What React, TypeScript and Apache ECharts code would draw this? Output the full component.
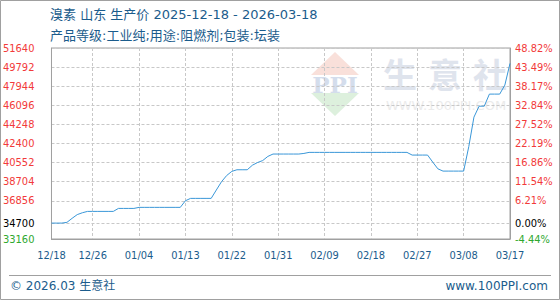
import React, { useEffect, useRef } from 'react';
import * as echarts from 'echarts';

// ---- data ----
const startDate = Date.UTC(2025, 11, 18);
const dayCount = 90;
const dates: string[] = [];
for (let i = 0; i < dayCount; i++) {
  const d = new Date(startDate + i * 86400000);
  const mm = String(d.getUTCMonth() + 1).padStart(2, '0');
  const dd = String(d.getUTCDate()).padStart(2, '0');
  dates.push(mm + '/' + dd);
}

const prices: number[] = [
  34700, 34700, 34700, 34770, 35160, 35520, 35700, 35830, 35830, 35830,
  35830, 35830, 35830, 36120, 36120, 36120, 36120, 36220, 36220, 36220,
  36220, 36220, 36220, 36220, 36220, 36220, 36860, 37090, 37090, 37090,
  37090, 37090, 37900, 38700, 39300, 39700, 39860, 39860, 39860, 40300,
  40560, 40750, 41150, 41380, 41380, 41380, 41380, 41380, 41380, 41440,
  41540, 41540, 41540, 41540, 41540, 41540, 41540, 41540, 41540, 41540,
  41540, 41540, 41540, 41540, 41540, 41540, 41540, 41540, 41540, 41540,
  41280, 41280, 41280, 41280, 40600, 39950, 39730, 39730, 39730, 39730,
  39730, 42100, 44950, 46010, 46010, 47180, 47180, 47180, 48050, 50150,
];

const yTicks: number[] = [33160, 34700, 36856, 38704, 40552, 42400, 44248, 46096, 47944, 49792, 51640];
const basePrice = 34700;

const titleLine1 = '溴素 山东 生产价 2025-12-18 - 2026-03-18';
const titleLine2 = '产品等级:工业纯;用途:阻燃剂;包装:坛装';
const footerLeft = '© 2026.03 生意社';
const footerRight = 'www.100PPI.com';
const wmChars = ['生', '意', '社'];
const wmUrl = 'WWW.100PPI.COM';

const BLUE_TEXT = '#1b5c8c';
const RED = '#f23a3a';
const GREEN = '#2fa82f';
const AXIS_GRAY = '#a0a0a0';
const GRID_GRAY = '#c8c8c8';
const LABEL_FONT = '"DejaVu Sans Condensed", "DejaVu Sans", sans-serif';
const TEXT_FONT = '"DejaVu Sans", "Noto Sans CJK SC", sans-serif';

const labelColor = (v: any) => {
  const n = Number(v);
  if (Math.abs(n - basePrice) < 0.5) return '#000000';
  return n > basePrice ? RED : GREEN;
};

const xLabelShown = (index: number) => index === 0 || (dayCount - 1 - index) % 9 === 0;

export default function App() {
  const ref = useRef<HTMLDivElement>(null);
  useEffect(() => {
    if (!ref.current) return;
    const chart = echarts.init(ref.current, undefined, { renderer: 'svg' });
    const yMin = yTicks[0];
    const yMax = yTicks[yTicks.length - 1];
    chart.setOption({
      animation: false,
      backgroundColor: '#ffffff',
      grid: {
        left: 51, right: 50, top: 48, bottom: 61,
        show: true, borderColor: AXIS_GRAY, borderWidth: 1, backgroundColor: 'transparent',
      },
      xAxis: {
        type: 'category',
        data: dates,
        boundaryGap: false,
        axisLine: { lineStyle: { color: AXIS_GRAY } },
        axisTick: { show: false },
        axisLabel: {
          interval: (i: number) => xLabelShown(i),
          color: BLUE_TEXT, fontSize: 11, fontFamily: LABEL_FONT, margin: 11,
        },
        splitLine: {
          show: true,
          interval: (i: number) => xLabelShown(i),
          lineStyle: { type: [3, 2], color: GRID_GRAY, width: 1 },
        },
      },
      yAxis: [
        {
          type: 'value', min: yMin, max: yMax, position: 'left',
          axisLine: { show: true, lineStyle: { color: AXIS_GRAY } },
          axisTick: { show: false, customValues: yTicks },
          axisLabel: {
            customValues: yTicks,
            color: labelColor,
            fontSize: 11, fontFamily: LABEL_FONT, margin: 17,
            formatter: (v: number) => String(Math.round(v)),
          },
          splitLine: { show: true, lineStyle: { type: [3, 2], color: GRID_GRAY, width: 1 } },
        },
        {
          type: 'value', min: yMin, max: yMax, position: 'right',
          axisLine: { show: true, lineStyle: { color: AXIS_GRAY } },
          axisTick: { show: false, customValues: yTicks },
          axisLabel: {
            customValues: yTicks,
            color: labelColor,
            fontSize: 11, fontFamily: LABEL_FONT, margin: 5,
            formatter: (v: number) => ((v / basePrice - 1) * 100).toFixed(2) + '%',
          },
          splitLine: { show: false },
        },
      ],
      series: [
        {
          type: 'line',
          data: prices,
          symbol: 'none',
          showSymbol: false,
          lineStyle: { color: '#3a97d8', width: 1 },
          z: 5,
        },
      ],
      graphic: [
        { type: 'rect', z: -5, shape: { x: 0.5, y: 0.5, width: 559, height: 299 }, style: { fill: 'none', stroke: AXIS_GRAY, lineWidth: 1 } },
        { type: 'line', z: -5, shape: { x1: 9, y1: 275.5, x2: 551, y2: 275.5 }, style: { stroke: AXIS_GRAY, lineWidth: 1 } },
        { type: 'text', x: 50, y: 14, style: { text: titleLine1, fill: BLUE_TEXT, font: '13px ' + TEXT_FONT, verticalAlign: 'middle' } },
        { type: 'text', x: 50, y: 35, style: { text: titleLine2, fill: BLUE_TEXT, font: '13px ' + TEXT_FONT, verticalAlign: 'middle' } },
        { type: 'text', x: 10, y: 286, style: { text: footerLeft, fill: BLUE_TEXT, font: '12px ' + TEXT_FONT, verticalAlign: 'middle' } },
        { type: 'text', x: 548, y: 286, style: { text: footerRight, fill: BLUE_TEXT, font: '12px ' + TEXT_FONT, verticalAlign: 'middle', align: 'right' } },
        // watermark logo
        { type: 'polygon', z: -10, shape: { points: [[311, 75], [335, 52], [359, 75]] }, style: { fill: '#f9e0da' } },
        { type: 'polygon', z: -10, shape: { points: [[311, 93], [359, 93], [335, 116]] }, style: { fill: '#ddf0dd' } },
        { type: 'text', z: -9, x: 335, y: 84, style: { text: 'PPI', fill: '#d4ddec', font: 'bold 23px "DejaVu Serif", serif', align: 'center', verticalAlign: 'middle' } },
        { type: 'text', z: -10, x: 400, y: 73, style: { text: wmChars[0], fill: '#dfe4ed', font: 'bold 34px "Noto Sans CJK SC", sans-serif', align: 'center', verticalAlign: 'middle' } },
        { type: 'text', z: -10, x: 445, y: 73, style: { text: wmChars[1], fill: '#dfe4ed', font: 'bold 34px "Noto Sans CJK SC", sans-serif', align: 'center', verticalAlign: 'middle' } },
        { type: 'text', z: -10, x: 490, y: 73, style: { text: wmChars[2], fill: '#dfe4ed', font: 'bold 34px "Noto Sans CJK SC", sans-serif', align: 'center', verticalAlign: 'middle' } },
        { type: 'text', z: -10, x: 446, y: 105, style: { text: wmUrl, fill: '#ebebeb', font: '13px "DejaVu Sans", sans-serif', align: 'center', verticalAlign: 'middle' } },
      ],
    });
    return () => chart.dispose();
  }, []);
  return (
    <div
      ref={ref}
      style={{ position: 'fixed', left: 0, top: 0, width: 560, height: 300, background: '#fff' }}
    />
  );
}
